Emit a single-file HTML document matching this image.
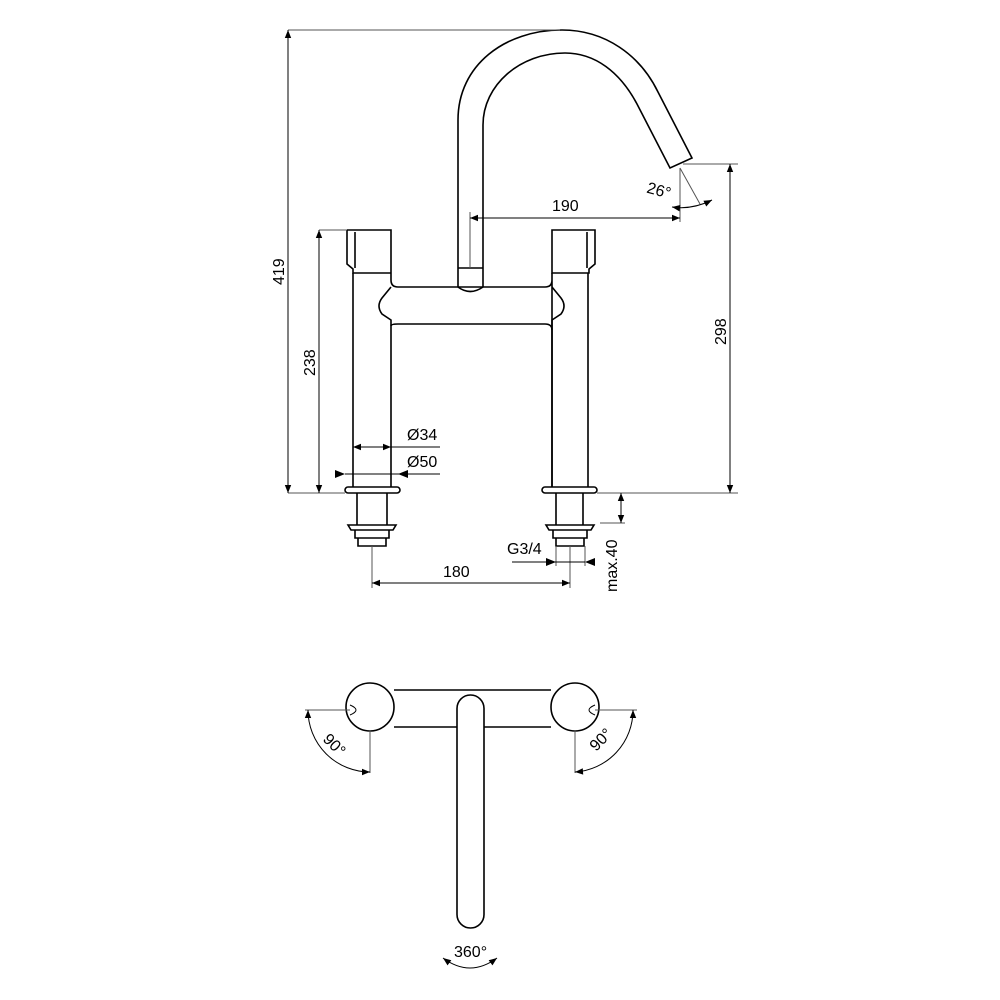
<!DOCTYPE html>
<html><head><meta charset="utf-8"><style>html,body{margin:0;padding:0;background:#fff}svg{display:block}</style></head>
<body>
<svg width="1000" height="1000" viewBox="0 0 1000 1000" xmlns="http://www.w3.org/2000/svg" font-family="Liberation Sans, sans-serif">
<defs>
<marker id="a" viewBox="0 0 10 10" refX="10" refY="5" markerWidth="10" markerHeight="8" orient="auto-start-reverse" markerUnits="userSpaceOnUse"><path d="M0,1 L10,5 L0,9 Z" fill="#000"/></marker>
</defs>
<g fill="none" stroke="#000" stroke-width="1.6">
<!-- spout -->
<path d="M458,268 L458,120 C458,65 505,30 562,30 C605,30 640,55 658,92 L692,158 L670,168 L637,104 C620,72 595,53 565,53 C520,53 483,85 483,125 L483,268"/>
<path d="M458,268 L483,268 M458,268 L458,287 M483,268 L483,287"/>
<path d="M458,287 Q470,296 483,287"/>
<!-- handles -->
<path d="M347,230 L391,230 L391,273 M347,230 L347,264 L353,269 L353,273 L391,273"/>
<path d="M355,232 L355,268"/>
<path d="M552,230 L595,230 L595,264 L589,269 L589,273 L552,273 Z"/>
<path d="M587,232 L587,268"/>
<!-- body bar & legs -->
<path d="M353,273 L353,487 M391,273 L391,280 Q391,287 398,287 L545,287 Q552,287 552,280 L552,273 M552,273 L552,487 M588,273 L588,487"/>
<path d="M391,287 L382,298 Q376,306 382,314 L391,320 L391,487"/>
<path d="M552,287 L561,298 Q567,306 561,314 L552,320 L552,487"/>
<path d="M391,326 Q391,324 398,324 L545,324 Q552,324 552,330"/>
<!-- flanges -->
<rect x="345" y="487" width="55" height="6" rx="3"/>
<rect x="542" y="487" width="55" height="6" rx="3"/>
<path d="M357,493 L357,525 M387,493 L387,525 M348,525 L396,525 L393,530 L351,530 Z M355,530 L355,538 L389,538 L389,530 M358,538 L358,546 L386,546 L386,538"/>
<path d="M556,493 L556,525 M583,493 L583,525 M546,525 L594,525 L591,530 L549,530 Z M553,530 L553,538 L587,538 L587,530 M556,538 L556,546 L584,546 L584,538"/>
<!-- top view -->
<circle cx="370" cy="707" r="24"/>
<circle cx="575" cy="707" r="24"/>
<path d="M394,690 L551,690 M394,727 L551,727"/>
<path d="M350,705 Q362,710 350,715 M595,705 Q583,710 595,715" stroke-width="1"/>
<rect x="457" y="695" width="27" height="233" rx="13.5" fill="#fff"/>
</g>
<g fill="none" stroke="#555" stroke-width="1">
<path d="M288,30 L560,30 M288,493 L345,493 M597,493 L738,493 M319,230 L347,230 M683,164 L738,164 M600,523 L625,523"/>
<path d="M680,168 L680,222 M680,168 L700,204 M470,212 L470,268"/>
<path d="M372,546 L372,588 M570,546 L570,588 M556,546 L556,566 M585,546 L585,566"/>
<path d="M305,710 L350,710 M595,710 L637,710 M370,730 L370,773 M575,730 L575,773"/>
</g>
<g stroke="#000" stroke-width="1" fill="none" marker-start="url(#a)" marker-end="url(#a)">
<path d="M288,30 L288,493"/>
<path d="M319,230 L319,493"/>
<path d="M730,164 L730,493"/>
<path d="M470,218 L680,218"/>
<path d="M621,493 L621,523"/>
<path d="M372,583 L570,583"/>
<path d="M672,207 Q692,210 712,200"/>
<path d="M308,710 A62,62 0 0 0 370,772"/>
<path d="M633,710 A62,62 0 0 1 575,772"/>
<path d="M443,958 Q470,978 497,958"/>
<path d="M353,447 L391,447"/>
</g>
<g stroke="#000" stroke-width="1" fill="none">
<path d="M391,447 L440,447"/>
<path d="M345,474 L440,474"/>
<path d="M512,562 L585,562"/>
</g>
<g fill="#000">
<path d="M345,474 L335,470 L335,478 Z"/>
<path d="M398,474 L408,470 L408,478 Z"/>
<path d="M556,562 L546,558 L546,566 Z"/>
<path d="M585,562 L595,558 L595,566 Z"/>
</g>
<g font-size="16" fill="#000">
<text x="552" y="211">190</text>
<text x="443" y="577">180</text>
<text x="407" y="440">Ø34</text>
<text x="407" y="467">Ø50</text>
<text x="507" y="554">G3/4</text>
<text x="647" y="196" transform="rotate(15 660 190)">26°</text>
<text transform="translate(284,285) rotate(-90)">419</text>
<text transform="translate(315,376) rotate(-90)">238</text>
<text transform="translate(726,345) rotate(-90)">298</text>
<text transform="translate(617,592) rotate(-90)">max.40</text>
<text transform="translate(322,740) rotate(45)">90°</text>
<text transform="translate(596,752) rotate(-45)">90°</text>
<text x="454" y="957">360°</text>
</g>
</svg>
</body></html>
